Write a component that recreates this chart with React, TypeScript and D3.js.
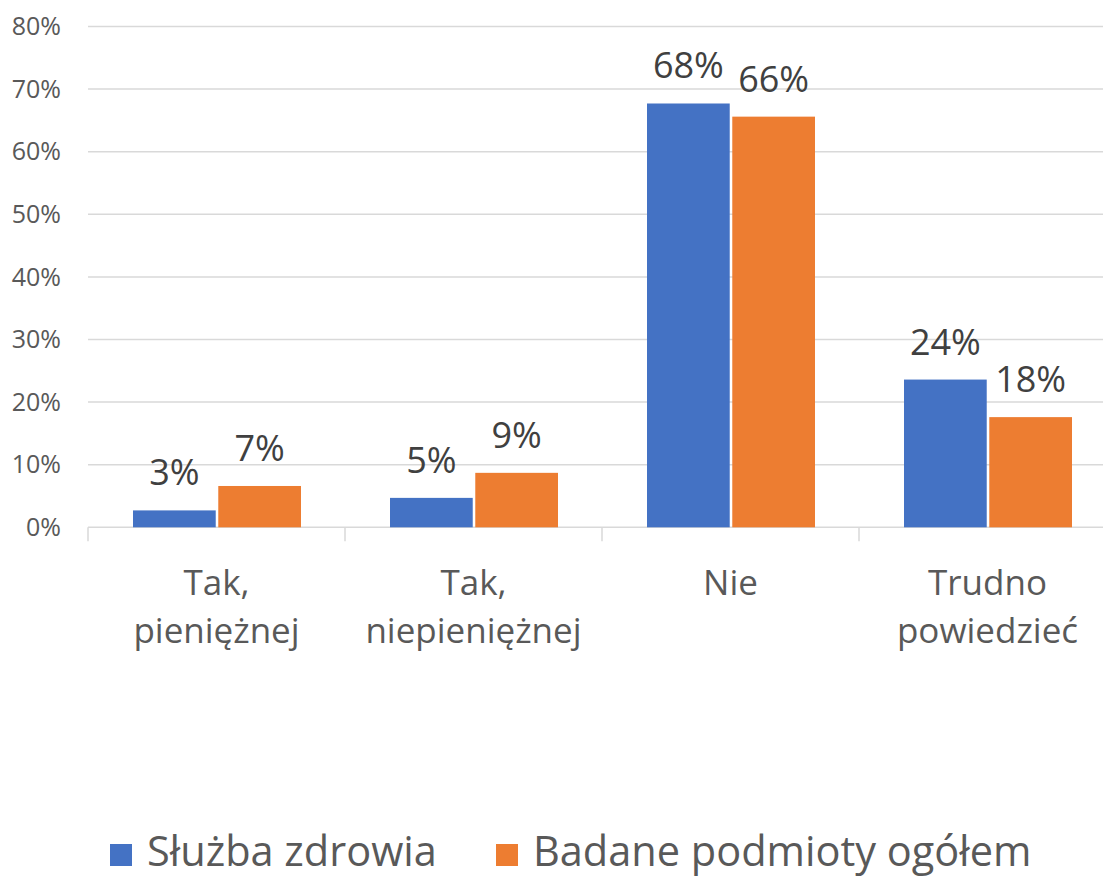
import React from "react";
import * as d3 from "d3";

const categories: string[][] = [["Tak,", "pieniężnej"], ["Tak,", "niepieniężnej"], ["Nie"], ["Trudno", "powiedzieć"]];
const seriesNames = ["Służba zdrowia", "Badane podmioty ogółem"];
const seriesColors = ["#4472C4", "#ED7D31"];
const sluzba = [2.7, 4.7, 67.7, 23.6];
const ogolem = [6.6, 8.7, 65.6, 17.6];
const labelsSluzba = ["3%", "5%", "68%", "24%"];
const labelsOgolem = ["7%", "9%", "66%", "18%"];
const yTicks = [0, 10, 20, 30, 40, 50, 60, 70, 80];

const W = 1103, H = 876;
const FONT = "'Open Sans', 'Noto Sans', sans-serif";

export default function App() {
  const x = d3.scaleBand<number>().domain([0, 1, 2, 3]).range([88, 1116]).paddingInner(0).paddingOuter(0);
  const y = d3.scaleLinear().domain([0, 80]).range([527.3, 26.5]);
  const bw = x.bandwidth();
  const inner = d3.scaleBand<number>().domain([0, 1]).range([45, bw - 44]).paddingInner(0.03);
  const series = [sluzba, ogolem];
  const labels = [labelsSluzba, labelsOgolem];
  return (
    <svg width={W} height={H} style={{ display: "block", position: "absolute", left: 0, top: 0, background: "#fff" }}>
      {yTicks.map((t) => (
        <g key={t}>
          <line x1={88} x2={W} y1={y(t)} y2={y(t)} stroke="#d9d9d9" strokeWidth={1.5} />
          <text x={61} y={y(t)} dy="0.35em" textAnchor="end" fontFamily={FONT} fontSize={25} fill="#595959">{t}%</text>
        </g>
      ))}
      {[0, 1, 2, 3, 4].map((i) => (
        <line key={i} x1={88 + i * bw} x2={88 + i * bw} y1={y(0)} y2={y(0) + 14} stroke="#d9d9d9" strokeWidth={1.5} />
      ))}
      {series.map((s, si) =>
        s.map((v, ci) => {
          const bx = (x(ci) as number) + (inner(si) as number);
          return (
            <g key={si + "-" + ci}>
              <rect x={bx} y={y(v)} width={inner.bandwidth()} height={y(0) - y(v)} fill={seriesColors[si]} />
              <text x={bx + inner.bandwidth() / 2} y={y(v) - 25} textAnchor="middle" fontFamily={FONT} fontSize={36} fill="#404040">{labels[si][ci]}</text>
            </g>
          );
        })
      )}
      {categories.map((lines, ci) => (
        <text key={ci} textAnchor="middle" fontFamily={FONT} fontSize={35} fill="#595959">
          {lines.map((ln, li) => (
            <tspan key={li} x={(x(ci) as number) + bw / 2} y={595 + li * 48}>{ln}</tspan>
          ))}
        </text>
      ))}
      {seriesNames.map((n, i) => {
        const lx = i === 0 ? 110 : 496;
        return (
          <g key={n}>
            <rect x={lx} y={844} width={22} height={22} fill={seriesColors[i]} />
            <text x={lx + 37} y={866} fontFamily={FONT} fontSize={41.5} fill="#595959">{n}</text>
          </g>
        );
      })}
    </svg>
  );
}
